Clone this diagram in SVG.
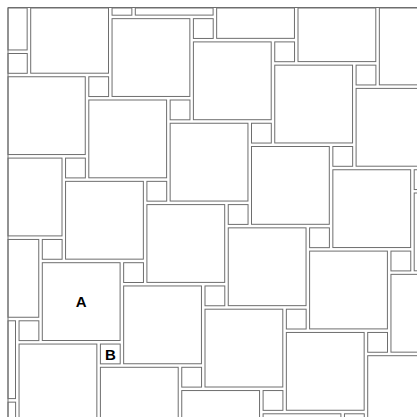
<svg xmlns="http://www.w3.org/2000/svg" width="417" height="417" viewBox="0 0 417 417">
<style>
.t{fill:#fff;stroke:#6e6e6e;stroke-width:1}
.f{fill:none;stroke:#6e6e6e;stroke-width:1}
.lbl{font-family:"Liberation Sans",Arial,sans-serif;font-size:15px;font-weight:bold;fill:#000;text-anchor:middle;dominant-baseline:central}
</style>
<rect width="417" height="417" fill="#fff"/>
<g id="big-tiles">
<rect id="b1" class="t" x="135.3" y="8" width="77.8" height="7.1"/>
<rect id="b2" class="t" x="216.65" y="8" width="77.8" height="30.35"/>
<rect id="b3" class="t" x="298" y="8" width="77.8" height="53.6"/>
<rect id="b4" class="t" x="379.35" y="8" width="77.8" height="76.85"/>
<rect id="b5" class="t" x="8" y="8" width="19.15" height="41.95"/>
<rect id="b6" class="t" x="30.7" y="8" width="77.8" height="65.2"/>
<rect id="b7" class="t" x="112.05" y="18.65" width="77.8" height="77.8"/>
<rect id="b8" class="t" x="193.4" y="41.9" width="77.8" height="77.8"/>
<rect id="b9" class="t" x="274.75" y="65.15" width="77.8" height="77.8"/>
<rect id="b10" class="t" x="356.1" y="88.4" width="77.8" height="77.8"/>
<rect id="b11" class="t" x="8" y="76.75" width="77.25" height="77.8"/>
<rect id="b12" class="t" x="88.8" y="100" width="77.8" height="77.8"/>
<rect id="b13" class="t" x="170.15" y="123.25" width="77.8" height="77.8"/>
<rect id="b14" class="t" x="251.5" y="146.5" width="77.8" height="77.8"/>
<rect id="b15" class="t" x="332.85" y="169.75" width="77.8" height="77.8"/>
<rect id="b16" class="t" x="414.2" y="193" width="77.8" height="77.8"/>
<rect id="b17" class="t" x="8" y="158.1" width="54" height="77.8"/>
<rect id="b18" class="t" x="65.55" y="181.35" width="77.8" height="77.8"/>
<rect id="b19" class="t" x="146.9" y="204.6" width="77.8" height="77.8"/>
<rect id="b20" class="t" x="228.25" y="227.85" width="77.8" height="77.8"/>
<rect id="b21" class="t" x="309.6" y="251.1" width="77.8" height="77.8"/>
<rect id="b22" class="t" x="390.95" y="274.35" width="77.8" height="77.8"/>
<rect id="b23" class="t" x="8" y="239.45" width="30.75" height="77.8"/>
<rect id="b24" class="t" x="42.3" y="262.7" width="77.8" height="77.8"/>
<rect id="b25" class="t" x="123.65" y="285.95" width="77.8" height="77.8"/>
<rect id="b26" class="t" x="205" y="309.2" width="77.8" height="77.8"/>
<rect id="b27" class="t" x="286.35" y="332.45" width="77.8" height="77.8"/>
<rect id="b28" class="t" x="367.7" y="355.7" width="77.8" height="77.8"/>
<rect id="b29" class="t" x="8" y="320.8" width="7.5" height="77.8"/>
<rect id="b30" class="t" x="19.05" y="344.05" width="77.8" height="77.8"/>
<rect id="b31" class="t" x="100.4" y="367.3" width="77.8" height="77.8"/>
<rect id="b32" class="t" x="181.75" y="390.55" width="77.8" height="77.8"/>
<rect id="b33" class="t" x="263.1" y="413.8" width="77.8" height="77.8"/>
</g>
<g id="small-tiles">
<rect id="s1" class="t" x="112.05" y="8" width="19.8" height="7.2"/>
<rect id="s2" class="t" x="193.4" y="18.65" width="19.8" height="19.8"/>
<rect id="s3" class="t" x="274.75" y="41.9" width="19.8" height="19.8"/>
<rect id="s4" class="t" x="356.1" y="65.15" width="19.8" height="19.8"/>
<rect id="s5" class="t" x="8" y="53.5" width="19.25" height="19.8"/>
<rect id="s6" class="t" x="88.8" y="76.75" width="19.8" height="19.8"/>
<rect id="s7" class="t" x="170.15" y="100" width="19.8" height="19.8"/>
<rect id="s8" class="t" x="251.5" y="123.25" width="19.8" height="19.8"/>
<rect id="s9" class="t" x="332.85" y="146.5" width="19.8" height="19.8"/>
<rect id="s10" class="t" x="414.2" y="169.75" width="19.8" height="19.8"/>
<rect id="s11" class="t" x="65.55" y="158.1" width="19.8" height="19.8"/>
<rect id="s12" class="t" x="146.9" y="181.35" width="19.8" height="19.8"/>
<rect id="s13" class="t" x="228.25" y="204.6" width="19.8" height="19.8"/>
<rect id="s14" class="t" x="309.6" y="227.85" width="19.8" height="19.8"/>
<rect id="s15" class="t" x="390.95" y="251.1" width="19.8" height="19.8"/>
<rect id="s16" class="t" x="42.3" y="239.45" width="19.8" height="19.8"/>
<rect id="s17" class="t" x="123.65" y="262.7" width="19.8" height="19.8"/>
<rect id="s18" class="t" x="205" y="285.95" width="19.8" height="19.8"/>
<rect id="s19" class="t" x="286.35" y="309.2" width="19.8" height="19.8"/>
<rect id="s20" class="t" x="367.7" y="332.45" width="19.8" height="19.8"/>
<rect id="s21" class="t" x="19.05" y="320.8" width="19.8" height="19.8"/>
<rect id="s22" class="t" x="100.4" y="344.05" width="19.8" height="19.8"/>
<rect id="s23" class="t" x="181.75" y="367.3" width="19.8" height="19.8"/>
<rect id="s24" class="t" x="263.1" y="390.55" width="19.8" height="19.8"/>
<rect id="s25" class="t" x="344.45" y="413.8" width="19.8" height="19.8"/>
<rect id="s26" class="t" x="8" y="402.15" width="7.6" height="19.8"/>
</g>
<path id="frame" class="f" d="M8,417 V7.5 H417"/>
<g id="labels">
<text class="lbl" x="81.2" y="301.6">A</text>
<text class="lbl" x="110.3" y="354">B</text>
</g>
</svg>
